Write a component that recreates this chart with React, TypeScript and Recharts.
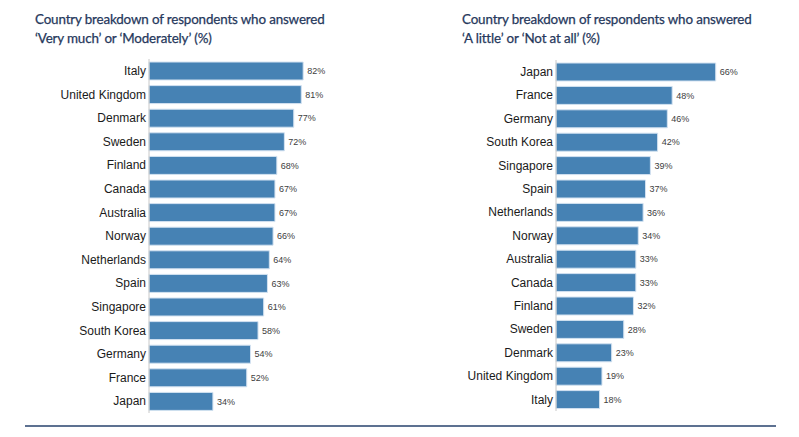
import React from 'react';
import { BarChart, Bar, XAxis, YAxis, LabelList } from 'recharts';

const leftCountries = ['Italy', 'United Kingdom', 'Denmark', 'Sweden', 'Finland', 'Canada', 'Australia', 'Norway', 'Netherlands', 'Spain', 'Singapore', 'South Korea', 'Germany', 'France', 'Japan'];
const leftValues = [82, 81, 77, 72, 68, 67, 67, 66, 64, 63, 61, 58, 54, 52, 34];
const rightCountries = ['Japan', 'France', 'Germany', 'South Korea', 'Singapore', 'Spain', 'Netherlands', 'Norway', 'Australia', 'Canada', 'Finland', 'Sweden', 'Denmark', 'United Kingdom', 'Italy'];
const rightValues = [66, 48, 46, 42, 39, 37, 36, 34, 33, 33, 32, 28, 23, 19, 18];
const leftTitle = ['Country breakdown of respondents who answered', '\u2018Very much\u2019 or \u2018Moderately\u2019 (%)'];
const rightTitle = ['Country breakdown of respondents who answered', '\u2018A little\u2019 or \u2018Not at all\u2019 (%)'];

const leftData = leftCountries.map((name, i) => ({ name, value: leftValues[i] }));
const rightData = rightCountries.map((name, i) => ({ name, value: rightValues[i] }));

const titleStyle: React.CSSProperties = {
  position: 'absolute',
  fontFamily: 'Lato, sans-serif',
  fontWeight: 400,
  fontSize: 13.4,
  letterSpacing: -0.15,
  lineHeight: '19px',
  color: '#26385c',
  WebkitTextStroke: '0.25px #26385c',
  whiteSpace: 'nowrap',
};

function Panel({ data, width, yWidth, margin }: { data: { name: string; value: number }[]; width: number; yWidth: number; margin: any }) {
  return (
    <BarChart width={width} height={437} data={data} layout="vertical" margin={margin}>
      <XAxis type="number" hide domain={[0, 100]} />
      <YAxis
        type="category"
        dataKey="name"
        width={yWidth}
        interval={0}
        axisLine={{ stroke: '#c8c8c8' }}
        tickLine={false}
        tickSize={0}
        tickMargin={3}
        tick={{ fontSize: 12, fill: '#1a1a1a', fontFamily: '"Liberation Sans", Arial, sans-serif' }}
      />
      <Bar dataKey="value" fill="#4682b4" stroke="#d3e2f1" strokeWidth={1} barSize={18} isAnimationActive={false}>
        <LabelList
          dataKey="value"
          position="right"
          offset={4}
          formatter={(v: any) => `${v}%`}
          style={{ fontSize: 9, fill: '#404040', fontFamily: '"Liberation Sans", Arial, sans-serif' }}
        />
      </Bar>
    </BarChart>
  );
}

export default function App() {
  return (
    <div style={{ position: 'absolute', left: 0, top: 0, width: 799, height: 437, background: '#fff', overflow: 'hidden' }}>
      <div style={{ ...titleStyle, left: 35, top: 10 }}>
        {leftTitle[0]}
        <br />
        {leftTitle[1]}
      </div>
      <div style={{ ...titleStyle, left: 462, top: 10 }}>
        {rightTitle[0]}
        <br />
        {rightTitle[1]}
      </div>
      <div style={{ position: 'absolute', left: 0, top: 0 }}>
        <Panel data={leftData} width={400} yWidth={149} margin={{ top: 59, bottom: 24, left: 0, right: 63 }} />
      </div>
      <div style={{ position: 'absolute', left: 400, top: 0 }}>
        <Panel data={rightData} width={399} yWidth={156} margin={{ top: 60, bottom: 26, left: 0, right: 1 }} />
      </div>
      <div style={{ position: 'absolute', left: 25, top: 425, width: 751, height: 1.5, background: '#5d7191' }} />
    </div>
  );
}
